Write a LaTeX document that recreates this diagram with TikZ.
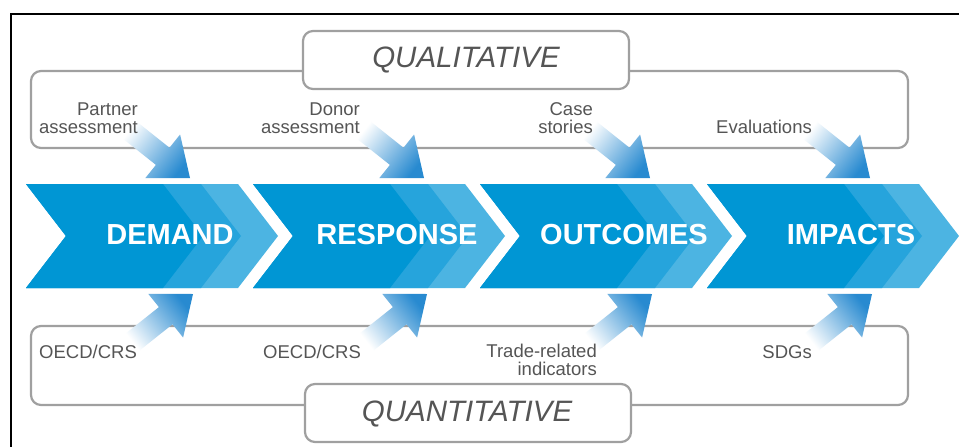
\documentclass[tikz,border=0pt]{standalone}
\usepackage{fontspec}
\setmainfont{Liberation Sans}
\definecolor{chevdark}{RGB}{0,150,212}
\definecolor{chevmid}{RGB}{38,164,220}
\definecolor{chevlight}{RGB}{76,180,226}
\definecolor{framegray}{RGB}{160,160,160}
\definecolor{textgray}{RGB}{85,85,85}
\definecolor{arrowblue}{RGB}{40,138,208}
\begin{document}
\begin{tikzpicture}[x=1pt,y=-1pt,
  groupframe/.style={draw=framegray, line width=2.2pt, rounded corners=10pt},
  titlebox/.style={draw=framegray, fill=white, line width=2.2pt, rounded corners=10pt},
  titletext/.style={text=textgray, font=\fontsize{29.5}{31}\selectfont\itshape, inner sep=0pt, anchor=base},
  labeltext/.style={text=textgray, font=\fontsize{18.5}{19}\selectfont, inner sep=0pt},
  chevtext/.style={text=white, font=\fontsize{29}{31}\selectfont\bfseries, inner sep=0pt, anchor=base},
  toparrow/.style={top color=arrowblue, bottom color=white, shading angle=-128.5},
  botarrow/.style={top color=arrowblue, bottom color=white, shading angle=-51.5}]
\useasboundingbox (0,0) rectangle (959,447);
\fill[white] (0,0) rectangle (959,447);
% outer black frame
\draw[black, line width=1.3pt] (959,14) -- (11,14) -- (11,447);
% group frames
\draw[groupframe] (31,71) rectangle (908,148);
\draw[groupframe] (31,326) rectangle (908,405);
\draw[titlebox] (303,31) rectangle (629,89);
\draw[titlebox] (305,384) rectangle (631,442);
\node[titletext] (qual) at (466,67.5) {QUALITATIVE};
\node[titletext] (quant) at (467,421.5) {QUANTITATIVE};
% chevrons
\foreach \sx/\lab [count=\i] in {26/DEMAND, 253/RESPONSE, 480/OUTCOMES, 707/IMPACTS}{
  \fill[chevlight] (\sx,184) -- ++(212,0) -- ++(40,52) -- ++(-40,52) -- (\sx,288) -- ++(40,-52) -- cycle;
  \fill[chevmid] (\sx,184) -- ++(175,0) -- ++(40,52) -- ++(-40,52) -- (\sx,288) -- ++(40,-52) -- cycle;
  \fill[chevdark] (\sx,184) -- ++(137,0) -- ++(40,52) -- ++(-40,52) -- (\sx,288) -- ++(40,-52) -- cycle;
  \node[chevtext] (c\i) at (\sx+144,244.5) {\lab};
}
% gradient arrows, top
\foreach \tx in {190,424,650,870}{
  \begin{scope}[shift={(\tx,178)}]
    \shade[toparrow] (-55.6,-58.2) -- (-20.5,-30.3) -- (-9.9,-43.5) -- (0,0) -- (-44.7,0.1) -- (-34.1,-13.1) -- (-69.2,-41.0) -- cycle;
  \end{scope}
}
% gradient arrows, bottom
\foreach \tx in {193,427,652,872}{
  \begin{scope}[shift={(\tx,294)}, yscale=-1]
    \shade[botarrow] (-55.6,-58.2) -- (-20.5,-30.3) -- (-9.9,-43.5) -- (0,0) -- (-44.7,0.1) -- (-34.1,-13.1) -- (-69.2,-41.0) -- cycle;
  \end{scope}
}
% top labels
\node[labeltext, anchor=base east] (pa1) at (138,115) {Partner};
\node[labeltext, anchor=base east] (pa2) at (138,133) {assessment};
\node[labeltext, anchor=base east] (da1) at (360,115) {Donor};
\node[labeltext, anchor=base east] (da2) at (360,133) {assessment};
\node[labeltext, anchor=base east] (cs1) at (593,115) {Case};
\node[labeltext, anchor=base east] (cs2) at (593,133) {stories};
\node[labeltext, anchor=base east] (ev) at (812,133) {Evaluations};
% bottom labels
\node[labeltext, anchor=base west] (oe1) at (39,358) {OECD/CRS};
\node[labeltext, anchor=base west] (oe2) at (263,358) {OECD/CRS};
\node[labeltext, anchor=base east] (tr1) at (597,357) {Trade-related};
\node[labeltext, anchor=base east] (tr2) at (597,375) {indicators};
\node[labeltext, anchor=base east] (sdg) at (812,358) {SDGs};
\end{tikzpicture}
\end{document}
